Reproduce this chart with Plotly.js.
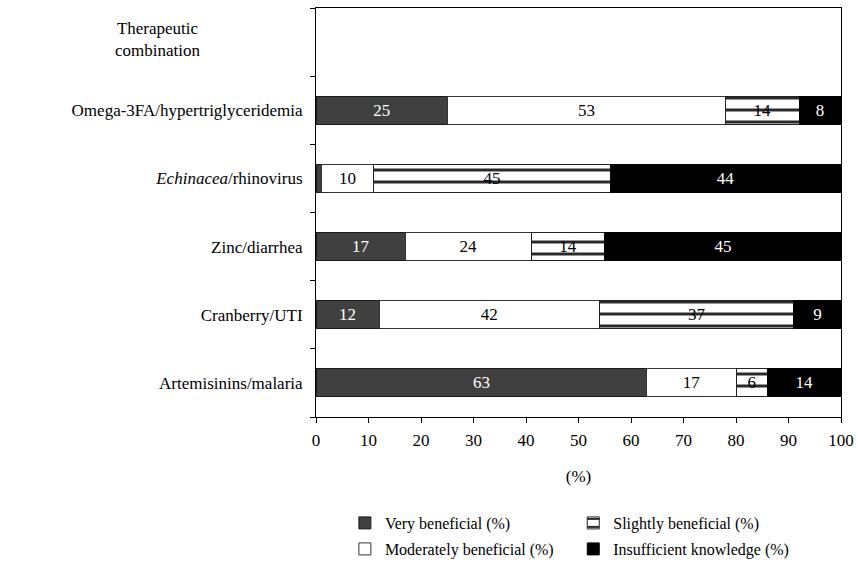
<!DOCTYPE html>
<html>
<head>
<meta charset="utf-8">
<script src="https://cdn.plot.ly/plotly-3.0.1.min.js"></script>
<style>html,body{margin:0;padding:0;background:#fff}#chart{width:858px;height:567px}</style>
</head>
<body>
<div id="chart"></div>
<script>
const categories = ['Therapeutic combination', 'Omega-3FA/hypertriglyceridemia', '<i>Echinacea</i>/rhinovirus', 'Zinc/diarrhea', 'Cranberry/UTI', 'Artemisinins/malaria'];
const tickLabels = ['', 'Omega-3FA/hypertriglyceridemia', '<i>Echinacea</i>/rhinovirus', 'Zinc/diarrhea', 'Cranberry/UTI', 'Artemisinins/malaria'];
const veryBeneficial = [null, 25, 1, 17, 12, 63];
const moderatelyBeneficial = [null, 53, 10, 24, 42, 17];
const slightlyBeneficial = [null, 14, 45, 14, 37, 6];
const insufficientKnowledge = [null, 8, 44, 45, 9, 14];
const seriesNames = ['Very beneficial (%)', 'Moderately beneficial (%)', 'Slightly beneficial (%)', 'Insufficient knowledge (%)'];

const FONT = 'Liberation Serif, Times New Roman, serif';
const lbl = v => (v == null || v < 5) ? '' : String(v);

function mk(vals, name, fill, lineColor, textColor, legendId, pattern) {
  const t = {
    type: 'bar', orientation: 'h', y: categories, x: vals, name: name,
    text: vals.map(lbl), textposition: 'inside', insidetextanchor: 'middle',
    textfont: {family: FONT, size: 17, color: textColor},
    constraintext: 'none',
    marker: {color: fill, line: {color: lineColor, width: 1}},
    legend: legendId, hoverinfo: 'x+name'
  };
  if (pattern) t.marker.pattern = pattern;
  return t;
}

const data = [
  mk(veryBeneficial, seriesNames[0], '#404040', '#1a1a1a', '#ffffff', 'legend'),
  mk(moderatelyBeneficial, seriesNames[1], '#ffffff', '#333333', '#000000', 'legend2'),
  mk(slightlyBeneficial, seriesNames[2], '#ffffff', '#222222', '#000000', 'legend3',
     {shape: '-', fgcolor: '#2a2a2a', bgcolor: '#ffffff', size: 12, solidity: 0.25}),
  mk(insufficientKnowledge, seriesNames[3], '#000000', '#000000', '#ffffff', 'legend4')
];

const legBase = {font: {family: FONT, size: 16, color: '#000'}, bgcolor: 'rgba(0,0,0,0)',
  xanchor: 'left', yanchor: 'middle', xref: 'paper', yref: 'container'};
const layout = {
  width: 858, height: 567,
  margin: {l: 316, r: 17, t: 8, b: 150},
  paper_bgcolor: '#fff', plot_bgcolor: '#fff',
  font: {family: FONT, size: 17, color: '#000'},
  barmode: 'stack', bargap: 0.59,
  showlegend: true,
  xaxis: {
    range: [0, 100], dtick: 10, tick0: 0, ticks: 'outside', ticklen: 5, tickcolor: '#000',
    showline: true, mirror: true, linecolor: '#000', linewidth: 1,
    showgrid: false, zeroline: false, fixedrange: true, automargin: false,
    ticklabelstandoff: 3,
    tickfont: {family: FONT, size: 17, color: '#000'},
    title: {text: '(%)', font: {family: FONT, size: 17, color: '#000'}, standoff: 20}
  },
  yaxis: {
    type: 'category', categoryorder: 'array', categoryarray: categories,
    autorange: 'reversed',
    tickmode: 'array', tickvals: categories, ticktext: tickLabels,
    tickson: 'boundaries', ticks: 'outside', ticklen: 5, tickcolor: '#000',
    showline: true, mirror: true, linecolor: '#000', linewidth: 1,
    showgrid: false, zeroline: false, fixedrange: true, automargin: false,
    ticklabelstandoff: 9,
    tickfont: {family: FONT, size: 17, color: '#000'}
  },
  annotations: [{
    xref: 'paper', yref: 'y', x: (157 - 316) / 525, y: categories[0],
    text: 'Therapeutic<br>combination', showarrow: false, align: 'center',
    xanchor: 'center', yanchor: 'middle', yshift: 3,
    font: {family: FONT, size: 17, color: '#000'}
  }],
  legend: Object.assign({}, legBase, {x: 0.055, y: (567 - 523) / 567}),
  legend2: Object.assign({}, legBase, {x: 0.055, y: (567 - 549) / 567}),
  legend3: Object.assign({}, legBase, {x: 0.49, y: (567 - 523) / 567}),
  legend4: Object.assign({}, legBase, {x: 0.49, y: (567 - 549) / 567})
};

Plotly.newPlot('chart', data, layout, {displayModeBar: false, staticPlot: true});
</script>
</body>
</html>
